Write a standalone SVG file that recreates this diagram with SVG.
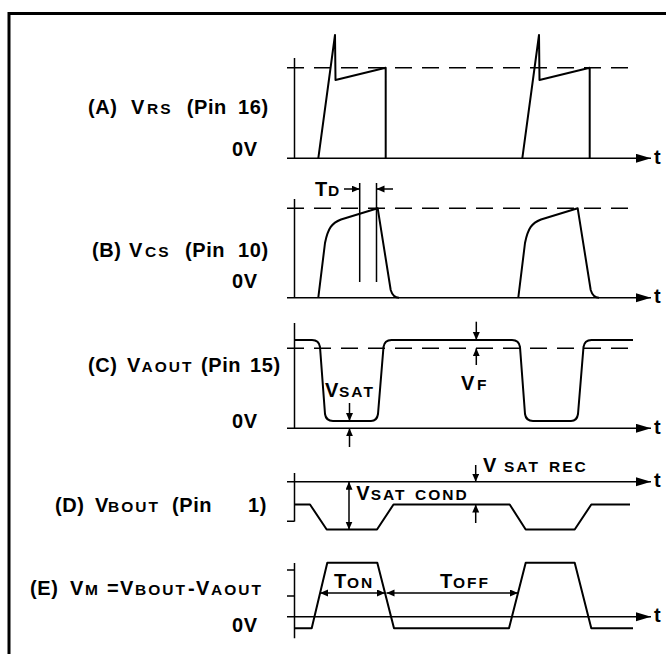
<svg xmlns="http://www.w3.org/2000/svg" width="666" height="654" viewBox="0 0 666 654">
<style>
text{font-family:"Liberation Sans",Arial,sans-serif;font-weight:bold;font-size:20px;letter-spacing:0.6px;fill:#000}
.s{font-size:15.5px;letter-spacing:2px}
.w{fill:none;stroke:#000;stroke-width:2;stroke-linejoin:round}
.ax{fill:none;stroke:#000;stroke-width:1.5}
.d{fill:none;stroke:#000;stroke-width:1.5;stroke-dasharray:17 10}
.ta{fill:none;stroke:#000;stroke-width:1.5;marker-end:url(#big)}
.ar{fill:none;stroke:#000;stroke-width:1.5;marker-end:url(#sm)}
.da{fill:none;stroke:#000;stroke-width:1.5;marker-start:url(#sm);marker-end:url(#sm)}
</style>
<defs>
<marker id="big" markerUnits="userSpaceOnUse" markerWidth="16" markerHeight="10" refX="15" refY="4.5" orient="auto"><path d="M0,0 L15,4.5 L0,9 z" fill="#000"/></marker>
<marker id="sm" markerUnits="userSpaceOnUse" markerWidth="9" markerHeight="8" refX="8" refY="3.5" orient="auto-start-reverse"><path d="M0,0 L8,3.5 L0,7 z" fill="#000"/></marker>
</defs>
<rect width="666" height="654" fill="#fff"/>
<path d="M9,654 V13.5 H666" fill="none" stroke="#000" stroke-width="3"/>

<g id="panelA">
<text y="114.3"><tspan x="88">(A) </tspan><tspan x="131">V</tspan><tspan x="147" class="s">RS </tspan><tspan x="186.7">(Pin </tspan><tspan x="238">16)</tspan></text>
<text x="232" y="155.7">0V</text>
<path class="ax" d="M294.5,58 V158.3"/>
<path class="d" d="M287,67.7 H633"/>
<path class="w" d="M318.3,158.3 L335,35 L335.5,80 L385.7,67.7 V158.3"/>
<path class="w" d="M522.3,158.3 L539,35 L539.5,80 L589.7,67.7 V158.3"/>
</g>

<g id="panelB">
<text y="257.3"><tspan x="92">(B) </tspan><tspan x="129">V</tspan><tspan x="145" class="s">CS </tspan><tspan x="185">(Pin </tspan><tspan x="238">10)</tspan></text>
<text x="232" y="288.3">0V</text>
<path class="ax" d="M294.5,199 V297.7"/>
<path class="d" d="M287,208.3 H633"/>
<path class="w" d="M318.3,297.7 L325,243 C328,228 332,223 341,219.5 L377.7,208.3 L390.7,290 Q393,297.7 399,297.7"/>
<path class="w" d="M518.3,297.7 L525,243 C528,228 532,223 541,219.5 L577.7,208.3 L590.7,290 Q593,297.7 599,297.7"/>
<path class="ax" d="M359.7,183 V282 M376.5,183 V282"/>
<text y="195.7"><tspan x="315">T</tspan><tspan x="328" class="s">D</tspan></text>
</g>

<g id="panelC">
<text y="371.7"><tspan x="88">(C) </tspan><tspan x="127">V</tspan><tspan x="141.5" class="s">AOUT </tspan><tspan x="201">(Pin </tspan><tspan x="250">15)</tspan></text>
<text x="232" y="428.3">0V</text>
<path class="ax" d="M294.5,323 V428.3"/>
<path class="d" d="M287,348.3 H633"/>
<path class="w" d="M294.5,340 H312 Q319,340 320,347 L325,414 Q326,421 333,421 H371 Q377,421 378,414 L383.5,347 Q384.5,340 391.5,340 H512 Q519,340 520,347 L525,414 Q526,421 533,421 H571 Q577,421 578,414 L583.5,347 Q584.5,340 591.5,340 H633"/>
<text y="396.7"><tspan x="325">V</tspan><tspan x="339" class="s">SAT</tspan></text>
<text y="390"><tspan x="461">V</tspan><tspan x="477" class="s">F</tspan></text>
</g>

<g id="panelD">
<text y="511.7"><tspan x="55">(D) </tspan><tspan x="95">V</tspan><tspan x="108" class="s">BOUT </tspan><tspan x="172">(Pin </tspan><tspan x="248">1)</tspan></text>
<path class="ax" d="M294.5,473 V521.5 M287,521.3 H294.5"/>
<path class="w" d="M294.5,504.5 H310 L326.7,529.5 H377 L393.5,504.5 H509.7 L525.7,529.5 H574.7 L591.3,504.5 H630"/>
<text y="500"><tspan x="356.3">V</tspan><tspan x="370.7" class="s">SAT </tspan><tspan x="415" class="s">COND</tspan></text>
<text y="471.7"><tspan x="483">V </tspan><tspan x="504" class="s">SAT </tspan><tspan x="549" class="s">REC</tspan></text>
</g>

<g id="panelE">
<text y="595"><tspan x="30">(E) </tspan><tspan x="70">V</tspan><tspan x="85" class="s">M </tspan><tspan x="107">=</tspan><tspan x="120">V</tspan><tspan x="135" class="s">BOUT</tspan><tspan x="188">-</tspan><tspan x="196">V</tspan><tspan x="211" class="s">AOUT</tspan></text>
<text x="232" y="631.7">0V</text>
<path class="ax" d="M294.5,563 V638.3 M287,570 H294.5 M287,596 H294.5"/>
<path class="w" d="M294.5,628.3 H311.7 L327.3,562.7 H377.3 L394,628.3 H509 L525.7,562.7 H574.7 L591.3,628.3 H633"/>
<text y="588"><tspan x="334">T</tspan><tspan x="347" class="s">ON</tspan></text>
<text y="588"><tspan x="440">T</tspan><tspan x="453" class="s">OFF</tspan></text>
</g>

<g id="connectors">
<path class="ta" d="M287,158.3 H651"/>
<path class="ta" d="M287,297.7 H651"/>
<path class="ta" d="M287,428.3 H651"/>
<path class="ta" d="M287,481.7 H651"/>
<path class="ta" d="M287,616.7 H651"/>
<path class="ar" d="M344,189 H359.7"/>
<path class="ar" d="M393,189 H376.5"/>
<path class="ar" d="M349.5,403 V421"/>
<path class="ar" d="M349.5,447 V428.3"/>
<path class="ar" d="M476.3,321.7 V340"/>
<path class="ar" d="M476.3,365 V348.3"/>
<path class="da" d="M349,481.7 V529.5"/>
<path class="ar" d="M475.7,465 V481.7"/>
<path class="ar" d="M475.7,523 V504.5"/>
<path class="da" d="M320,593 H385"/>
<path class="da" d="M386.5,593 H518"/>
</g>
<g id="tlabels">
<text x="654" y="163.8">t</text>
<text x="654" y="303.2">t</text>
<text x="654" y="433.8">t</text>
<text x="654" y="487.2">t</text>
<text x="654" y="622.2">t</text>
</g>
</svg>
